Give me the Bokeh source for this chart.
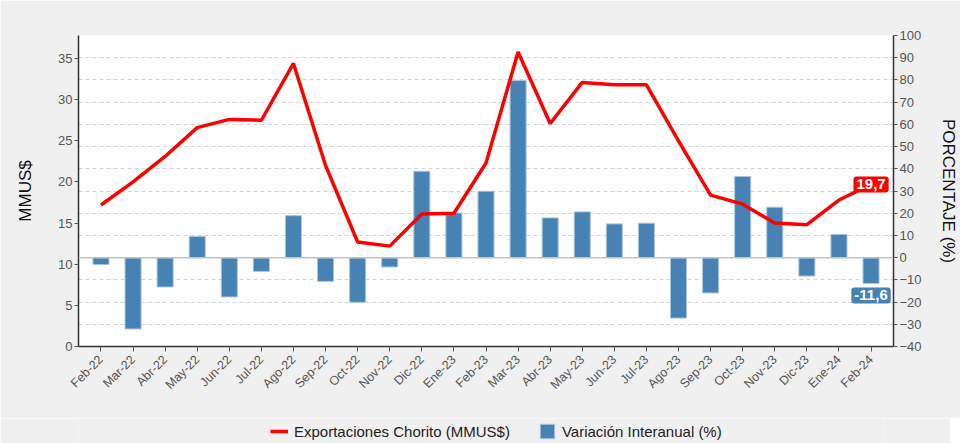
from bokeh.plotting import figure
from bokeh.layouts import column
from bokeh.models import (Range1d, LinearAxis, FactorRange, Span, Legend, LegendItem,
                          Label, SingleIntervalTicker, ColumnDataSource, Grid)
from bokeh.embed import file_html
from bokeh.resources import INLINE
import math

months = ["Feb-22", "Mar-22", "Abr-22", "May-22", "Jun-22", "Jul-22", "Ago-22", "Sep-22",
          "Oct-22", "Nov-22", "Dic-22", "Ene-23", "Feb-23", "Mar-23", "Abr-23", "May-23",
          "Jun-23", "Jul-23", "Ago-23", "Sep-23", "Oct-23", "Nov-23", "Dic-23", "Ene-24", "Feb-24"]
exports = [17.2, 20.0, 23.1, 26.6, 27.6, 27.5, 34.4, 22.0, 12.7, 12.2, 16.1, 16.2, 22.3,
           35.8, 27.1, 32.1, 31.8, 31.8, 25.0, 18.4, 17.3, 15.0, 14.8, 17.8, 19.7]
variation = [-3.1, -32.1, -13.2, 9.5, -17.7, -6.2, 18.9, -10.7, -20.1, -4.2, 38.9, 20.1, 29.9,
             79.7, 17.9, 20.6, 15.2, 15.5, -27.2, -15.9, 36.5, 22.7, -8.3, 10.4, -11.6]

FONT = "Liberation Sans"
BG = "#f0f0f0"
RED = "#ff0000"
BLUE = "#4682B4"

src = ColumnDataSource(dict(m=months, e=exports, v=variation))

p = figure(frame_width=815, frame_height=311,
           x_range=FactorRange(*months, range_padding=0.2, range_padding_units="absolute"),
           y_range=Range1d(0, 37.8), output_backend="svg", toolbar_location=None,
           min_border_left=78, min_border_right=57, min_border_top=35, min_border_bottom=72,
           background_fill_color="white", border_fill_color=BG,
           outline_line_color=None)

p.extra_y_ranges = {"pct": Range1d(-40, 100)}

# zero line
p.add_layout(Span(location=0, dimension="width", y_range_name="pct",
                  line_color="#c4c4c4", line_width=1.5))

bars = p.vbar(x="m", top="v", bottom=0, width=0.5, source=src, y_range_name="pct",
              fill_color=BLUE, line_color="#a9c4de", line_width=1)
line = p.line(x="m", y="e", source=src, line_color=RED, line_width=3.5)

# axes
ax_r = LinearAxis(y_range_name="pct", ticker=SingleIntervalTicker(interval=10))
p.add_layout(ax_r, "right")
p.yaxis[0].ticker = SingleIntervalTicker(interval=5)

for ax in [p.yaxis[0], ax_r]:
    ax.axis_line_color = "#333333"
    ax.axis_line_width = 1.5
    ax.major_tick_line_color = "#555555"
    ax.major_tick_in = 0
    ax.major_tick_out = 4
    ax.minor_tick_line_color = None
    ax.major_label_text_font = FONT
    ax.major_label_text_font_size = "13px"
    ax.major_label_text_color = "#555555"
    ax.major_label_standoff = 2
    ax.axis_label_text_font = FONT
    ax.axis_label_text_font_size = "17px"
    ax.axis_label_text_font_style = "normal"
    ax.axis_label_text_color = "#111111"

p.yaxis[0].axis_label = "MMUS$"
p.yaxis[0].axis_label_standoff = 20
ax_r.axis_label = "PORCENTAJE (%)"
ax_r.axis_label_standoff = 14

xa = p.xaxis[0]
xa.axis_line_color = "#333333"
xa.axis_line_width = 1.5
xa.major_tick_line_color = "#555555"
xa.major_tick_in = 0
xa.major_tick_out = 5
xa.major_label_orientation = math.pi / 4
xa.major_label_text_font = FONT
xa.major_label_text_font_size = "12.5px"
xa.major_label_text_color = "#555555"
xa.major_label_standoff = 6

p.xgrid.grid_line_color = None
p.ygrid.grid_line_color = None
g = Grid(dimension=1, ticker=ax_r.ticker, y_range_name="pct",
         grid_line_color="#d4d4d4", grid_line_dash="4 3", grid_line_width=1)
p.add_layout(g)

# last-value labels (synthetic factor coordinate of the last month: index + 0.5)
last_x = len(months) - 1 + 0.5
last_e = exports[-1]
last_v = variation[-1]
p.add_layout(Label(x=last_x, y=last_e,
                   text=f"{last_e:.1f}".replace(".", ","), text_font=FONT,
                   text_font_style="bold", text_font_size="15px", text_color="white",
                   text_align="center", text_baseline="middle",
                   background_fill_color=RED, padding=3, border_radius=3))
p.add_layout(Label(x=last_x, y=last_v, y_range_name="pct", y_offset=-12,
                   text=f"{last_v:.1f}".replace(".", ","), text_font=FONT,
                   text_font_style="bold", text_font_size="15px", text_color="white",
                   text_align="center", text_baseline="middle",
                   background_fill_color=BLUE, padding=3, border_radius=3))

# legend strip (separate figure below, same background); its swatch renderers
# use the last data values, which fall outside this strip's ranges (not drawn)
lf = figure(width=950, height=25, x_range=(0, 1), y_range=(100, 101),
            x_axis_type=None, y_axis_type=None, output_backend="svg", toolbar_location=None,
            min_border=0, min_border_left=0, min_border_right=0, min_border_top=0,
            min_border_bottom=0, background_fill_color=BG, border_fill_color=BG,
            outline_line_color=None)
lf.xgrid.grid_line_color = None
lf.ygrid.grid_line_color = None
sw = ColumnDataSource(dict(x=[0, 1], e=[last_e, last_e], v=[last_v, last_v]))
l_line = lf.line(x="x", y="e", source=sw, line_color=RED, line_width=3.5)
l_bar = lf.vbar(x="x", top="v", bottom=0, width=0.5, source=sw,
                fill_color=BLUE, line_color="#a9c4de", line_width=1)

legend = Legend(items=[LegendItem(label="Exportaciones Chorito (MMUS$)", renderers=[l_line]),
                       LegendItem(label="Variación Interanual (%)", renderers=[l_bar])],
                orientation="horizontal", location=(192, 3),
                label_text_font=FONT, label_text_font_size="15px", label_text_color="#222222",
                background_fill_alpha=0, border_line_color=None,
                glyph_width=18, glyph_height=18, label_standoff=6, spacing=28,
                margin=0, padding=0)
lf.add_layout(legend)

layout = column(p, lf, spacing=0)
open("out.html", "w").write(file_html(layout, INLINE))
